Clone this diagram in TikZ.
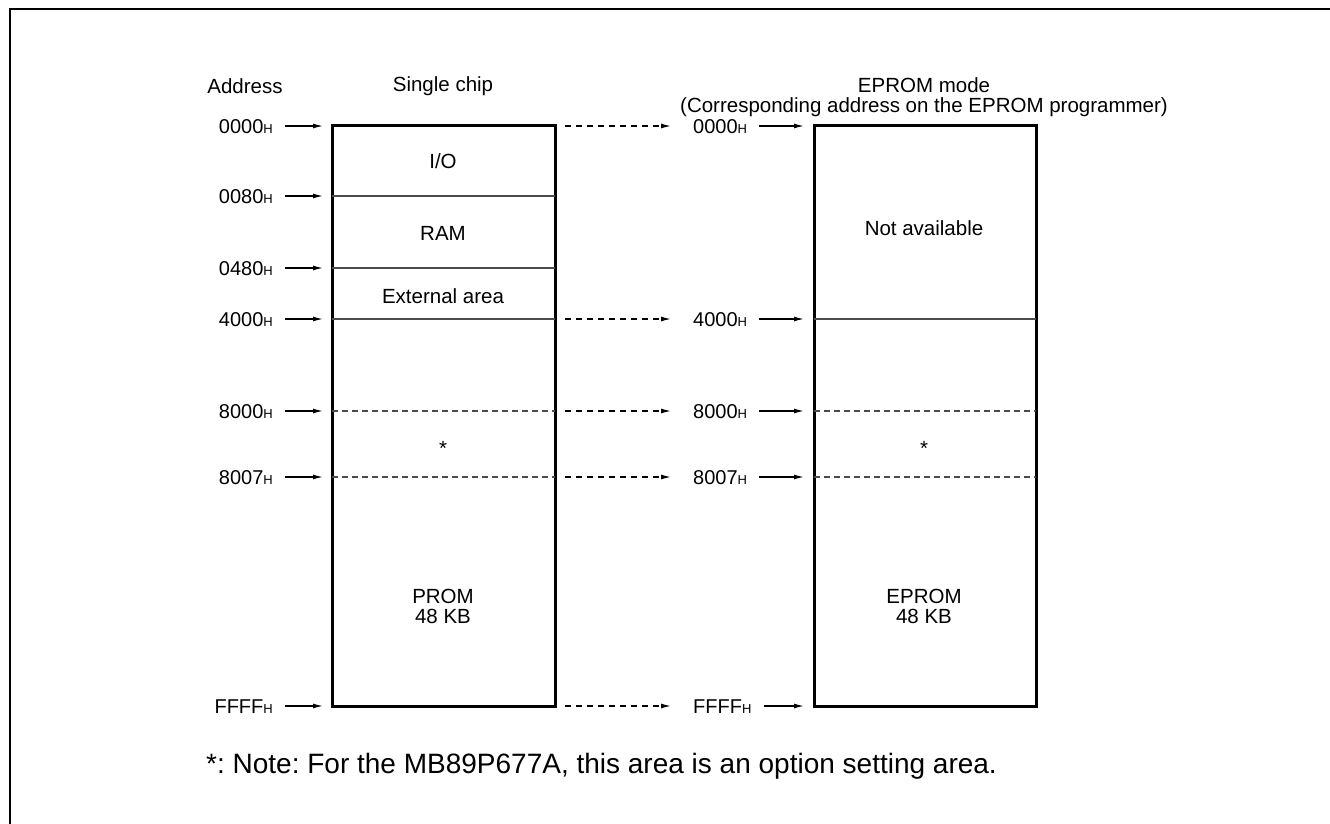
\documentclass[tikz,border=0pt]{standalone}
\usepackage{fontspec}
\setmainfont{Liberation Sans}
\usetikzlibrary{arrows.meta}
\frenchspacing
\begin{document}
\begin{tikzpicture}[x=1pt,y=-1pt,
  txt/.style={font=\fontsize{20.5}{20}\selectfont, inner sep=0pt},
  addr/.style={font=\fontsize{20}{24}\selectfont, inner sep=0pt},
  box/.style={draw, line width=3pt},
  div/.style={draw=black!70, line width=1.3pt},
  ddiv/.style={draw=black!70, line width=1.3pt, dash pattern=on 6pt off 4pt},
  arr/.style={-{Latex[length=10pt,width=5pt]}, line width=1.3pt},
  darr/.style={-{Latex[length=10pt,width=5pt]}, line width=1.3pt, dash pattern=on 6pt off 5pt},
  frame/.style={line width=2pt}]
\newcommand{\hh}{{\fontsize{13}{12}\selectfont H}}
\useasboundingbox (0,0) rectangle (1330,824);
% frame
\draw[frame] (10,824) -- (10,9) -- (1330,9);
% headings
\node[txt] (hA) at (245,86) {Address};
\node[txt] (hS) at (443,86) {Single chip};
\node[txt] (hE) at (924,85) {EPROM mode};
\node[txt] (hE2) at (924,107) {(Corresponding address on the EPROM programmer)};
% boxes
\draw[box] (332,126) rectangle (555,706);
\draw[box] (814,126) rectangle (1036,706);
% dividers left
\draw[div] (332,196) -- (555,196);
\draw[div] (332,268) -- (555,268);
\draw[div] (332,319) -- (555,319);
\draw[ddiv] (332,411) -- (555,411);
\draw[ddiv] (332,477) -- (555,477);
% dividers right
\draw[div] (814,319) -- (1036,319);
\draw[ddiv] (814,411) -- (1036,411);
\draw[ddiv] (814,477) -- (1036,477);
% box texts
\node[txt] (io) at (443,161) {I/O};
\node[txt] (ram) at (443,233) {RAM};
\node[txt] (ext) at (443,296) {External area};
\node[txt] (st1) at (443,448) {*};
\node[txt, align=center] (prom) at (443,606) {PROM\\48 KB};
\node[txt] (na) at (924,228) {Not available};
\node[txt] (st2) at (924,448) {*};
\node[txt, align=center] (eprom) at (924,606) {EPROM\\48 KB};
% address rows
\foreach \n/\y in {a/126,b/196,c/268,d/319,e/411,f/477,g/706}{
  \coordinate (L\n) at (323,\y);
  \coordinate (R\n) at (804,\y);
}
\node[addr, anchor=east] (la) at (273,127) {0000\hh};
\node[addr, anchor=east] (lb) at (273,197) {0080\hh};
\node[addr, anchor=east] (lc) at (273,269) {0480\hh};
\node[addr, anchor=east] (ld) at (273,320) {4000\hh};
\node[addr, anchor=east] (le) at (273,412) {8000\hh};
\node[addr, anchor=east] (lf) at (273,478) {8007\hh};
\node[addr, anchor=east] (lg) at (273,707) {FFFF\hh};
\node[addr, anchor=west] (ra) at (693,127) {0000\hh};
\node[addr, anchor=west] (rd) at (693,320) {4000\hh};
\node[addr, anchor=west] (re) at (693,412) {8000\hh};
\node[addr, anchor=west] (rf) at (693,478) {8007\hh};
\node[addr, anchor=west] (rg) at (693,707) {FFFF\hh};
\foreach \n in {a,b,c,d,e,f,g}{
  \draw[arr] (l\n.east |- L\n) ++(12,0) -- (L\n);
}
\foreach \n in {a,d,e,f,g}{
  \draw[darr] (r\n.west |- R\n) ++(-128,0) -- ++(106,0);
  \draw[arr] (r\n.east |- R\n) ++(12,0) -- (R\n);
}
% footnote
\node[font=\fontsize{28}{30}\selectfont, inner sep=0pt, anchor=west] (note) at (206,766) {*: Note: For the MB89P677A, this area is an option setting area.};
\end{tikzpicture}
\end{document}
